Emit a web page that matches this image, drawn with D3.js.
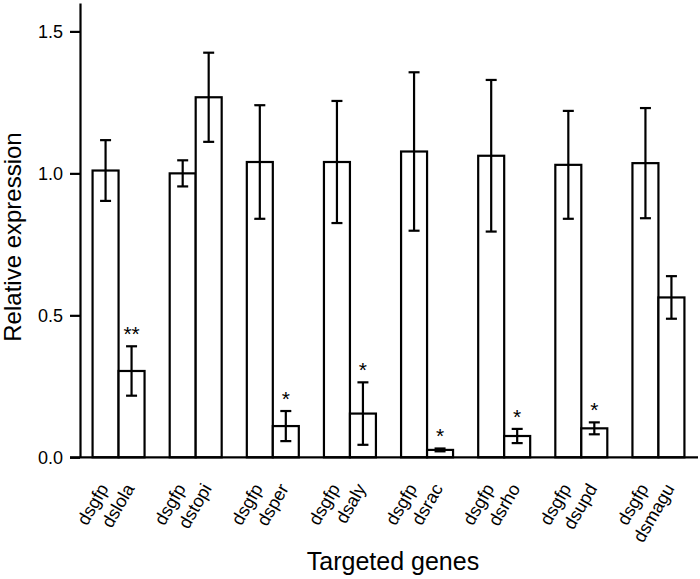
<!DOCTYPE html>
<html>
<head>
<meta charset="utf-8">
<script src="https://cdn.jsdelivr.net/npm/d3@7"></script>
<style>
  html, body { margin: 0; padding: 0; background: #fff; }
  svg text { font-family: "Liberation Sans", Arial, sans-serif; fill: #000; }
</style>
</head>
<body>
<svg id="chart" width="700" height="579"></svg>
<script>
// ---- data ----
const controlLabels = ["dsgfp", "dsgfp", "dsgfp", "dsgfp", "dsgfp", "dsgfp", "dsgfp", "dsgfp"];
const targetLabels  = ["dslola", "dstopi", "dsper", "dsaly", "dsrac", "dsrho", "dsupd", "dsmagu"];
const controlValues = [1.01, 1.00, 1.04, 1.04, 1.077, 1.062, 1.03, 1.036];
const controlErrors = [0.107, 0.046, 0.20, 0.215, 0.279, 0.267, 0.19, 0.194];
const targetValues  = [0.304, 1.268, 0.110, 0.154, 0.026, 0.075, 0.102, 0.563];
const targetErrors  = [0.087, 0.157, 0.053, 0.11, 0.005, 0.025, 0.021, 0.075];
const significance  = ["**", "", "*", "*", "*", "*", "*", ""];
const yTicks = [0.0, 0.5, 1.0, 1.5];
const yTitle = "Relative expression";
const xTitle = "Targeted genes";

// ---- layout ----
const svg = d3.select("#chart");
const x0 = 80, x1 = 697, yBottom = 457.3, yTop = 3;

const groups = d3.range(targetLabels.length);
const xGroup = d3.scaleBand().domain(groups).range([x0, x1])
  .paddingInner(0.326).paddingOuter(0.163);
const xSub = d3.scaleBand().domain(["control", "target"]).range([0, xGroup.bandwidth()]);
const y = d3.scaleLinear().domain([0, 1.6]).range([yBottom, yTop]);

const bars = [];
groups.forEach(i => {
  bars.push({g: i, kind: "control", label: controlLabels[i], v: controlValues[i], e: controlErrors[i], sig: ""});
  bars.push({g: i, kind: "target", label: targetLabels[i], v: targetValues[i], e: targetErrors[i], sig: significance[i]});
});
const bx = d => xGroup(d.g) + xSub(d.kind);
const cx = d => bx(d) + xSub.bandwidth() / 2;

// bars
svg.append("g").selectAll("rect").data(bars).join("rect")
  .attr("x", d => bx(d))
  .attr("y", d => y(d.v))
  .attr("width", xSub.bandwidth())
  .attr("height", d => y(0) - y(d.v))
  .attr("fill", "#fff")
  .attr("stroke", "#000")
  .attr("stroke-width", 2.2);

// error bars
const capW = 5.5;
const eb = svg.append("g").attr("stroke", "#000").attr("stroke-width", 2.2);
eb.selectAll("line.v").data(bars).join("line").attr("class", "v")
  .attr("x1", cx).attr("x2", cx)
  .attr("y1", d => y(d.v + d.e)).attr("y2", d => y(d.v - d.e));
eb.selectAll("line.t").data(bars).join("line").attr("class", "t")
  .attr("x1", d => cx(d) - capW).attr("x2", d => cx(d) + capW)
  .attr("y1", d => y(d.v + d.e)).attr("y2", d => y(d.v + d.e));
eb.selectAll("line.b").data(bars).join("line").attr("class", "b")
  .attr("x1", d => cx(d) - capW).attr("x2", d => cx(d) + capW)
  .attr("y1", d => y(d.v - d.e)).attr("y2", d => y(d.v - d.e));

// significance stars
svg.append("g").selectAll("text").data(bars.filter(d => d.sig)).join("text")
  .attr("x", cx)
  .attr("y", d => y(d.v + d.e) - 5)
  .attr("text-anchor", "middle")
  .attr("font-size", 21)
  .text(d => d.sig);

// y axis
const yAxis = svg.append("g").attr("transform", `translate(${x0},0)`)
  .call(d3.axisLeft(y).tickValues(yTicks).tickFormat(d3.format(".1f")).tickSize(10).tickSizeOuter(0).tickPadding(7));
yAxis.select(".domain").attr("stroke", "#000").attr("stroke-width", 2.2);
yAxis.selectAll(".tick line").attr("stroke", "#000").attr("stroke-width", 2.2);
yAxis.selectAll(".tick text").attr("font-size", 18).attr("font-family", "Liberation Sans, Arial, sans-serif");

// x axis baseline
svg.append("line")
  .attr("x1", x0 - 10).attr("x2", 698)
  .attr("y1", y(0)).attr("y2", y(0))
  .attr("stroke", "#000").attr("stroke-width", 2.2);

// category labels (rotated)
svg.append("g").selectAll("text").data(bars).join("text")
  .attr("transform", d => `translate(${cx(d) + 3.5},${y(0) + 31}) rotate(-60)`)
  .attr("text-anchor", "end")
  .attr("font-size", 18)
  .text(d => d.label);

// axis titles
svg.append("text")
  .attr("transform", `translate(21,237) rotate(-90)`)
  .attr("text-anchor", "middle")
  .attr("font-size", 24)
  .text(yTitle);
svg.append("text")
  .attr("x", 393).attr("y", 570)
  .attr("text-anchor", "middle")
  .attr("font-size", 25)
  .text(xTitle);
</script>
</body>
</html>
